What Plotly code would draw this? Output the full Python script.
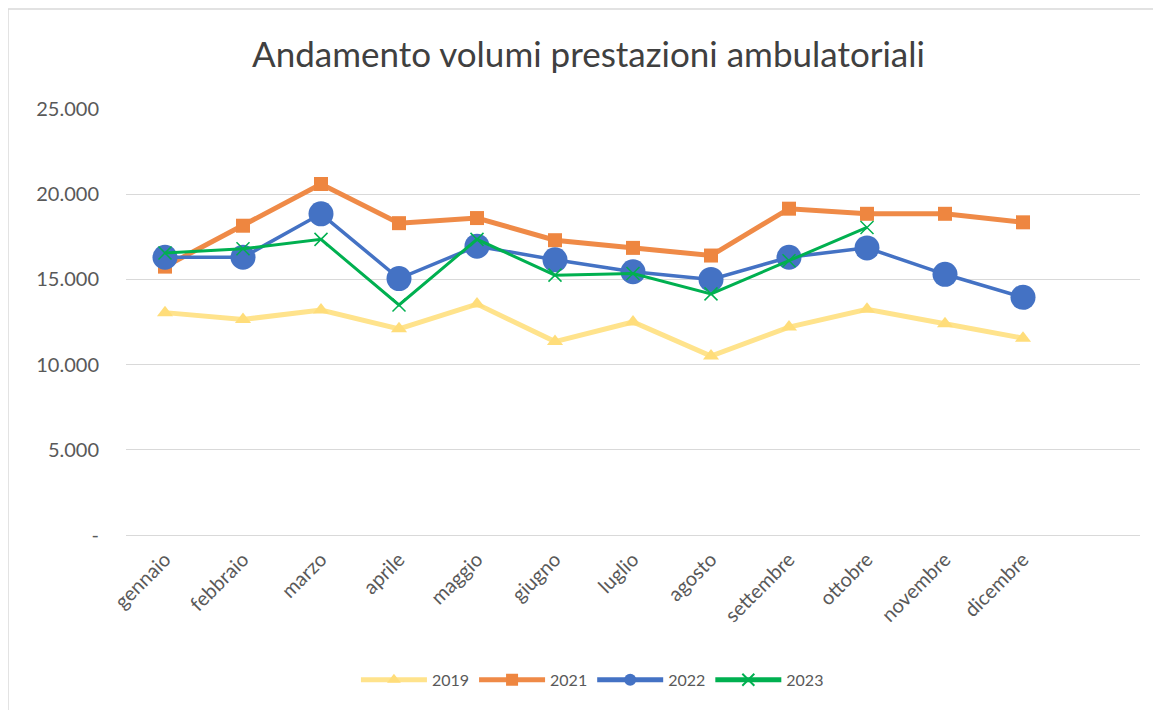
import plotly.graph_objects as go

mesi = ["gennaio", "febbraio", "marzo", "aprile", "maggio", "giugno",
        "luglio", "agosto", "settembre", "ottobre", "novembre", "dicembre"]

v2019 = [13050, 12650, 13200, 12100, 13550, 11350, 12500, 10500, 12200, 13250, 12400, 11550]
v2021 = [15750, 18150, 20600, 18300, 18600, 17300, 16850, 16400, 19150, 18850, 18850, 18350]
v2022 = [16300, 16300, 18850, 15050, 16950, 16150, 15450, 15000, 16300, 16850, 15300, 13950]
v2023 = [16550, 16800, 17350, 13500, 17350, 15250, 15350, 14150, 16100, 18050, None, None]

y_ticks = [0, 5000, 10000, 15000, 20000, 25000]
y_labels = ["-", "5.000", "10.000", "15.000", "20.000", "25.000"]

FONT = "Lato, 'Open Sans', sans-serif"
GREY = "#595959"

fig = go.Figure()
fig.add_trace(go.Scatter(
    x=mesi, y=v2019, name="2019", mode="lines+markers",
    line=dict(color="#FFE38C", width=5),
    marker=dict(symbol="triangle-up", size=14, color="#FFDD7A"),
))
fig.add_trace(go.Scatter(
    x=mesi, y=v2021, name="2021", mode="lines+markers",
    line=dict(color="#EF8A47", width=5),
    marker=dict(symbol="square", size=14, color="#EE8640"),
))
fig.add_trace(go.Scatter(
    x=mesi, y=v2022, name="2022", mode="lines+markers",
    line=dict(color="#4472C4", width=3.5),
    marker=dict(symbol="circle", size=25, color="#4472C4"),
))
fig.add_trace(go.Scatter(
    x=mesi, y=v2023, name="2023", mode="lines+markers",
    line=dict(color="#00B050", width=3),
    marker=dict(symbol="x-thin", size=13, line=dict(color="#00B050", width=1.5)),
))

fig.update_layout(
    width=1161, height=710,
    margin=dict(l=118, r=29, t=101, b=183),
    paper_bgcolor="white", plot_bgcolor="white",
    font=dict(family=FONT, color=GREY, size=20),
    title=dict(text="Andamento volumi prestazioni ambulatoriali",
               x=0.5, xanchor="center", y=0.934, yanchor="middle",
               font=dict(size=35, color="#404040", family=FONT)),
    xaxis=dict(type="category", range=[-0.5, 12.5], showgrid=False,
               showline=True, linecolor="#D9D9D9", linewidth=1,
               tickangle=-45, tickfont=dict(size=20, color=GREY),
               ticklabelstandoff=4),
    yaxis=dict(range=[0, 25000], tickvals=y_ticks, ticktext=y_labels,
               showgrid=True, gridcolor="#D9D9D9", gridwidth=1,
               zeroline=False, showline=False,
               tickfont=dict(size=20, color=GREY), ticklabelstandoff=26),
    legend=dict(orientation="h", x=0.46, xanchor="center", y=-0.34, yanchor="middle",
                font=dict(size=16, color=GREY), itemwidth=66, itemsizing="constant",
                traceorder="normal"),
    shapes=[dict(type="rect", xref="paper", yref="paper",
                 x0=-0.1164, x1=1.0276, y0=-0.427, y1=1.2347,
                 line=dict(color="#D9D9D9", width=1.5), layer="below")],
    showlegend=True,
)

fig.write_html("out.html")
